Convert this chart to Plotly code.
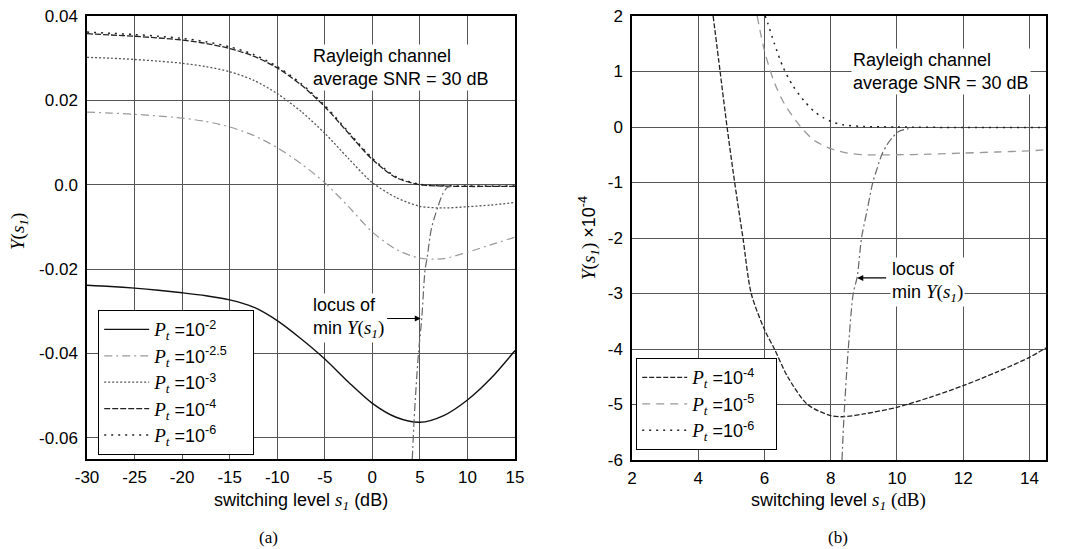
import plotly.graph_objects as go

SANS = "Liberation Sans"
SERIF = "Liberation Serif"

# ---------------- Panel (a) data ----------------
xa = [-30, -27.5, -25, -22.5, -20, -17.5, -15, -12.5, -10, -7.5, -5, -2.5,
      0, 2.5, 5, 7.5, 10, 12.5, 15]
ya_pt2 = [-0.0238, -0.0241, -0.0245, -0.0250, -0.0256, -0.0263, -0.0273, -0.0290,
          -0.0322, -0.0365, -0.0413, -0.0468, -0.0518, -0.0551, -0.0563, -0.0547,
          -0.0510, -0.0458, -0.0393]
ya_pt25 = [0.0172, 0.0170, 0.0167, 0.0163, 0.0158, 0.0150, 0.0137, 0.0117, 0.0088,
           0.0050, 0.0005, -0.0052, -0.0112, -0.0153, -0.0174, -0.0175, -0.0160,
           -0.0142, -0.0124]
ya_pt3 = [0.0302, 0.0300, 0.0297, 0.0293, 0.0288, 0.0280, 0.0268, 0.0248, 0.0216,
          0.0174, 0.0122, 0.0062, 0.0005, -0.0030, -0.0051, -0.0055, -0.0052,
          -0.0048, -0.0042]
ya_pt4 = [0.0358, 0.0355, 0.0352, 0.0348, 0.0343, 0.0335, 0.0323, 0.0305, 0.0277,
          0.0237, 0.0185, 0.0122, 0.0060, 0.0017, 0.0000, -0.0003, -0.0004,
          -0.0004, -0.0004]
ya_pt6 = [0.0362, 0.0359, 0.0356, 0.0352, 0.0347, 0.0339, 0.0327, 0.0309, 0.0280,
          0.0240, 0.0188, 0.0125, 0.0063, 0.0019, 0.0001, -0.0002, -0.0003,
          -0.0003, -0.0003]
xa_locus = [4.2, 4.38, 4.6, 4.85, 5.2, 5.55, 5.75, 6.2, 6.85, 7.4, 7.9, 8.6]
ya_locus = [-0.065, -0.0563, -0.048, -0.040, -0.0315, -0.020, -0.0175, -0.0105,
            -0.0055, -0.0022, -0.0006, -0.0003]

# ---------------- Panel (b) data (x 1e-4) ----------------
xb_pt4 = [4.45, 4.66, 4.87, 5.1, 5.35, 5.6, 6.0, 6.3, 6.7, 7.3, 8.0, 8.4, 9.0,
          10, 11, 12, 13, 14, 14.5]
yb_pt4 = [2, 1, 0, -1, -2, -3, -3.65, -4, -4.5, -5, -5.2, -5.22, -5.17, -5.05,
          -4.87, -4.66, -4.42, -4.15, -3.98]
xb_pt5 = [5.78, 6.0, 6.3, 6.6, 7.07, 7.5, 8.0, 8.5, 9.0, 10, 11, 12, 13, 14, 14.5]
yb_pt5 = [2, 1.37, 0.8, 0.42, 0.02, -0.24, -0.39, -0.47, -0.5, -0.5, -0.49,
          -0.47, -0.45, -0.43, -0.41]
xb_pt6 = [6.02, 6.1, 6.3, 6.56, 6.85, 7.17, 7.5, 7.77, 8.1, 8.37, 9.0, 10, 12, 14.5]
yb_pt6 = [2, 1.87, 1.5, 1.08, 0.75, 0.49, 0.28, 0.17, 0.08, 0.04, 0.01, 0.0,
          -0.01, -0.01]
xb_locus = [8.34, 8.4, 8.53, 8.68, 8.8, 8.93, 9.1, 9.27, 9.4, 9.54, 9.7, 9.85,
            10.05, 10.35]
yb_locus = [-6, -5.22, -4, -3, -2.7, -2, -1.5, -1.0, -0.75, -0.5, -0.32, -0.2,
            -0.08, -0.03]

xticks_a = [-30, -25, -20, -15, -10, -5, 0, 5, 10, 15]
xticklabels_a = ["-30", "-25", "-20", "-15", "-10", "-5", "0", "5", "10", "15"]
yticks_a = [0.04, 0.02, 0.0, -0.02, -0.04, -0.06]
yticklabels_a = ["0.04", "0.02", "0.0", "-0.02", "-0.04", "-0.06"]
xticks_b = [2, 4, 6, 8, 10, 12, 14]
xticklabels_b = ["2", "4", "6", "8", "10", "12", "14"]
yticks_b = [2, 1, 0, -1, -2, -3, -4, -5, -6]
yticklabels_b = ["2", "1", "0", "-1", "-2", "-3", "-4", "-5", "-6"]


def pt_label(exp, pad=4):
    return (f'<span style="font-family:{SERIF};font-size:19px"><i>P<sub>t</sub></i></span>'
            f' =10<sup>{exp}</sup>' + "&nbsp;" * pad)


fig = go.Figure()


def add(x, y, name, color, dash, width, ax, legend=None, spline=True):
    fig.add_trace(go.Scatter(
        x=x, y=y, mode="lines", name=name,
        line=dict(color=color, dash=dash, width=width,
                  shape="spline" if spline else "linear", smoothing=0.8),
        xaxis="x" if ax == 1 else "x2", yaxis="y" if ax == 1 else "y2",
        showlegend=legend is not None, legend=legend or "legend",
        hoverinfo="skip"))


# panel (a)
add(xa, ya_pt2, pt_label("-2"), "#111", "solid", 1.4, 1, "legend")
add(xa, ya_pt25, pt_label("-2.5"), "#9a9a9a", "8px,4px,2px,4px", 1.2, 1, "legend")
add(xa, ya_pt3, pt_label("-3"), "#555", "2px,2px", 1.3, 1, "legend")
add(xa, ya_pt4, pt_label("-4"), "#222", "6px,2px", 1.3, 1, "legend")
add(xa, ya_pt6, pt_label("-6"), "#222", "2px,5px", 1.5, 1, "legend")
add(xa_locus, ya_locus, "locus", "#666", "8px,3px,2px,3px", 1.2, 1, None)

# panel (b)
add(xb_pt4, yb_pt4, pt_label("-4", 3), "#222", "5px,2px", 1.3, 2, "legend2")
add(xb_pt5, yb_pt5, pt_label("-5", 3), "#999", "8px,6px", 1.3, 2, "legend2")
add(xb_pt6, yb_pt6, pt_label("-6", 3), "#222", "2px,5px", 1.5, 2, "legend2")
add(xb_locus, yb_locus, "locus", "#666", "8px,3px,2px,3px", 1.2, 2, None)

W, H = 1068, 549
axcommon = dict(showgrid=True, gridcolor="#555", gridwidth=1, zeroline=False,
                showline=True, linecolor="black", linewidth=1.5, mirror=True,
                ticks="", automargin=False,
                tickfont=dict(family=SANS, size=17, color="black"))

fig.update_layout(
    width=W, height=H, margin=dict(l=0, r=0, t=0, b=0, autoexpand=False),
    paper_bgcolor="white", plot_bgcolor="white",
    xaxis=dict(domain=[87 / W, 515 / W], range=[-30, 15], tickvals=xticks_a,
               ticktext=xticklabels_a, anchor="y", ticklabelstandoff=2, **axcommon),
    yaxis=dict(domain=[1 - 459 / H, 1 - 16 / H], range=[-0.065, 0.04],
               tickvals=yticks_a, ticktext=yticklabels_a, anchor="x",
               ticklabelstandoff=4, **axcommon),
    xaxis2=dict(domain=[632 / W, 1046 / W], range=[2, 14.5], tickvals=xticks_b,
                ticktext=xticklabels_b, anchor="y2", ticklabelstandoff=2, **axcommon),
    yaxis2=dict(domain=[1 - 460 / H, 1 - 16 / H], range=[-6, 2],
                tickvals=yticks_b, ticktext=yticklabels_b, anchor="x2",
                ticklabelstandoff=4, **axcommon),
    legend=dict(x=98 / W, y=1 - 310 / H, xanchor="left", yanchor="top",
                bgcolor="white", bordercolor="black", borderwidth=1.2,
                font=dict(family=SANS, size=18, color="black"),
                tracegroupgap=0, itemwidth=45),
    legend2=dict(x=636 / W, y=1 - 358 / H, xanchor="left", yanchor="top",
                 bgcolor="white", bordercolor="black", borderwidth=1.2,
                 font=dict(family=SANS, size=18, color="black"),
                 tracegroupgap=0, itemwidth=45),
    showlegend=True,
)

ann = []
# Rayleigh text boxes
ann.append(dict(xref="x", yref="y", x=-6.5, y=0.0278, xanchor="left", yanchor="middle",
                text="Rayleigh channel<br>average SNR = 30 dB", showarrow=False,
                align="left", bgcolor="white",
                font=dict(family=SANS, size=18, color="black")))
ann.append(dict(xref="x2", yref="y2", x=8.62, y=1.0, xanchor="left", yanchor="middle",
                text="Rayleigh channel<br>average SNR = 30 dB", showarrow=False,
                align="left", bgcolor="white",
                font=dict(family=SANS, size=18, color="black")))
# locus labels
ann.append(dict(xref="x", yref="y", x=-6.5, y=-0.0316, xanchor="left", yanchor="middle",
                text=f'locus of<br>min <span style="font-family:{SERIF};font-size:19px"><i>Y</i>(<i>s<sub>1</sub></i>)</span>',
                showarrow=False, align="left", bgcolor="white",
                font=dict(family=SANS, size=18, color="black")))
ann.append(dict(xref="x", yref="y", x=5.1, y=-0.0317, ax=1.4, ay=-0.0317,
                axref="x", ayref="y", text="", showarrow=True, arrowhead=2,
                arrowsize=1, arrowwidth=1.2, arrowcolor="black"))
ann.append(dict(xref="x2", yref="y2", x=9.8, y=-2.8, xanchor="left", yanchor="middle",
                text=f'locus of<br>min <span style="font-family:{SERIF};font-size:19px"><i>Y</i>(<i>s<sub>1</sub></i>)</span>',
                showarrow=False, align="left", bgcolor="white",
                font=dict(family=SANS, size=18, color="black")))
ann.append(dict(xref="x2", yref="y2", x=8.8, y=-2.72, ax=9.72, ay=-2.72,
                axref="x2", ayref="y2", text="", showarrow=True, arrowhead=2,
                arrowsize=1, arrowwidth=1.2, arrowcolor="black"))
# axis titles
ann.append(dict(xref="paper", yref="paper", x=19 / W, y=1 - 232 / H,
                xanchor="center", yanchor="middle",
                text=f'<span style="font-family:{SERIF}"><i>Y</i>(<i>s<sub>1</sub></i>)</span>',
                textangle=-90, showarrow=False, font=dict(family=SERIF, size=19, color="black")))
ann.append(dict(xref="paper", yref="paper", x=589 / W, y=1 - 238 / H,
                xanchor="center", yanchor="middle",
                text=f'<span style="font-family:{SERIF};font-size:19px"><i>Y</i>(<i>s<sub>1</sub></i>)</span> \u00d710<sup>-4</sup>',
                textangle=-90, showarrow=False, font=dict(family=SANS, size=18, color="black")))
ann.append(dict(xref="paper", yref="paper", x=301 / W, y=1 - 501 / H,
                xanchor="center", yanchor="middle",
                text=f'switching level <span style="font-family:{SERIF};font-size:19px"><i>s<sub>1</sub></i></span> (dB)',
                showarrow=False, font=dict(family=SANS, size=18, color="black")))
ann.append(dict(xref="paper", yref="paper", x=838 / W, y=1 - 501 / H,
                xanchor="center", yanchor="middle",
                text=f'switching level <span style="font-family:{SERIF};font-size:19px"><i>s<sub>1</sub></i> (dB)</span>',
                showarrow=False, font=dict(family=SANS, size=18, color="black")))
# captions
ann.append(dict(xref="paper", yref="paper", x=268 / W, y=1 - 537 / H,
                xanchor="center", yanchor="middle", text="(a)",
                showarrow=False, font=dict(family=SERIF, size=17, color="black")))
ann.append(dict(xref="paper", yref="paper", x=838 / W, y=1 - 537 / H,
                xanchor="center", yanchor="middle", text="(b)",
                showarrow=False, font=dict(family=SERIF, size=17, color="black")))
fig.update_layout(annotations=ann)

fig.write_html("out.html")
